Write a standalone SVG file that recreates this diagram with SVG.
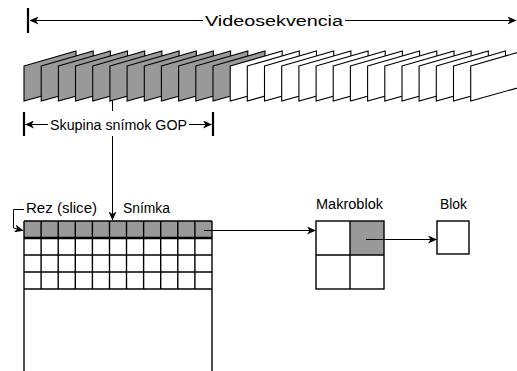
<svg xmlns="http://www.w3.org/2000/svg" xmlns:xlink="http://www.w3.org/1999/xlink" width="517" height="371" viewBox="0 0 517 371">
<style>
text{font-family:"Liberation Sans",Arial,sans-serif;font-size:14px;fill:#000}
.ln{stroke:#000;stroke-width:1;fill:none}
.bar{stroke:#000;stroke-width:2.2;fill:none}
.fr{stroke:#000;stroke-width:1.1;stroke-linejoin:miter}
.g{fill:#999999}
.w{fill:#ffffff}
.cell{stroke:#000;stroke-width:1.4}
</style>
<defs>
<marker id="ah" viewBox="0 0 9 8" refX="8.5" refY="4" markerWidth="9" markerHeight="8" markerUnits="userSpaceOnUse" orient="auto">
<path d="M0,0 L9,4 L0,8 L2.5,4 Z" fill="#000"/>
</marker>
<polygon id="f" class="fr" points="0,66 52,51 52,86.5 0,101"/>
</defs>
<rect width="517" height="371" fill="#fff"/>

<g id="sequence">
<use xlink:href="#f" x="24" class="g"/>
<use xlink:href="#f" x="41.2" class="g"/>
<use xlink:href="#f" x="58.4" class="g"/>
<use xlink:href="#f" x="75.5" class="g"/>
<use xlink:href="#f" x="92.7" class="g"/>
<use xlink:href="#f" x="109.9" class="g"/>
<use xlink:href="#f" x="127.1" class="g"/>
<use xlink:href="#f" x="144.3" class="g"/>
<use xlink:href="#f" x="161.4" class="g"/>
<use xlink:href="#f" x="178.6" class="g"/>
<use xlink:href="#f" x="195.8" class="g"/>
<use xlink:href="#f" x="213" class="g"/>
<use xlink:href="#f" x="230.2" class="w"/>
<use xlink:href="#f" x="247.3" class="w"/>
<use xlink:href="#f" x="264.5" class="w"/>
<use xlink:href="#f" x="281.7" class="w"/>
<use xlink:href="#f" x="298.9" class="w"/>
<use xlink:href="#f" x="316.1" class="w"/>
<use xlink:href="#f" x="333.2" class="w"/>
<use xlink:href="#f" x="350.4" class="w"/>
<use xlink:href="#f" x="367.6" class="w"/>
<use xlink:href="#f" x="384.8" class="w"/>
<use xlink:href="#f" x="402" class="w"/>
<use xlink:href="#f" x="419.1" class="w"/>
<use xlink:href="#f" x="436.3" class="w"/>
<use xlink:href="#f" x="453.5" class="w"/>
<use xlink:href="#f" x="470.7" class="w"/>
</g>

<g id="videosekvencia">
<line class="bar" x1="28" y1="8" x2="28" y2="33"/>
<text x="205" y="26" font-size="18" textLength="138" lengthAdjust="spacingAndGlyphs">Videosekvencia</text>
</g>

<g id="gop">
<line class="bar" x1="24" y1="112" x2="24" y2="136"/>
<line class="bar" x1="213" y1="112" x2="213" y2="136"/>
<text x="50" y="130" textLength="137" lengthAdjust="spacingAndGlyphs">Skupina snímok GOP</text>
</g>

<g id="snimka">
<rect x="24" y="221" width="188" height="17" fill="#999999"/>
<g class="cell">
<line x1="24" y1="221" x2="212" y2="221"/>
<line x1="24" y1="238" x2="212" y2="238" stroke-width="2.4"/>
<line x1="24" y1="255" x2="212" y2="255"/>
<line x1="24" y1="272" x2="212" y2="272"/>
<line x1="24" y1="289" x2="212" y2="289"/>
<line x1="24" y1="221" x2="24" y2="371"/>
<line x1="212" y1="221" x2="212" y2="371"/>
<line x1="41.1" y1="221" x2="41.1" y2="289"/>
<line x1="58.2" y1="221" x2="58.2" y2="289"/>
<line x1="75.3" y1="221" x2="75.3" y2="289"/>
<line x1="92.4" y1="221" x2="92.4" y2="289"/>
<line x1="109.5" y1="221" x2="109.5" y2="289"/>
<line x1="126.5" y1="221" x2="126.5" y2="289"/>
<line x1="143.6" y1="221" x2="143.6" y2="289"/>
<line x1="160.7" y1="221" x2="160.7" y2="289"/>
<line x1="177.8" y1="221" x2="177.8" y2="289"/>
<line x1="194.9" y1="221" x2="194.9" y2="289"/>
</g>
<text x="26" y="213" textLength="71" lengthAdjust="spacingAndGlyphs">Rez (slice)</text>
<text x="123" y="213" textLength="47" lengthAdjust="spacingAndGlyphs">Snímka</text>
</g>

<g id="makroblok">
<rect x="350" y="221" width="34" height="34" fill="#999999"/>
<rect class="cell" x="316" y="221" width="68" height="68" fill="none"/>
<line class="cell" x1="350" y1="221" x2="350" y2="289"/>
<line class="cell" x1="316" y1="255" x2="384" y2="255"/>
<text x="349.5" y="209" text-anchor="middle" textLength="67" lengthAdjust="spacingAndGlyphs">Makroblok</text>
</g>

<g id="blok">
<rect class="cell" x="437" y="221" width="32" height="33" fill="#fff"/>
<text x="453.5" y="209" text-anchor="middle" textLength="27" lengthAdjust="spacingAndGlyphs">Blok</text>
</g>

<g id="connectors">
<line class="ln" x1="203" y1="20.5" x2="30" y2="20.5" marker-end="url(#ah)"/>
<line class="ln" x1="345" y1="20.5" x2="516" y2="20.5" marker-end="url(#ah)"/>
<line class="ln" x1="48" y1="124.5" x2="25.5" y2="124.5" marker-end="url(#ah)"/>
<line class="ln" x1="189" y1="124.5" x2="211.5" y2="124.5" marker-end="url(#ah)"/>
<line class="ln" x1="112.5" y1="101" x2="112.5" y2="111"/>
<line class="ln" x1="112.5" y1="136" x2="112.5" y2="220" marker-end="url(#ah)"/>
<path class="ln" d="M24,209.5 H13.5 V228 L23,230.5" marker-end="url(#ah)"/>
<line class="ln" x1="204" y1="230.5" x2="315.5" y2="230.5" marker-end="url(#ah)"/>
<line class="ln" x1="366" y1="239.5" x2="436.5" y2="239.5" marker-end="url(#ah)"/>
</g>
</svg>
